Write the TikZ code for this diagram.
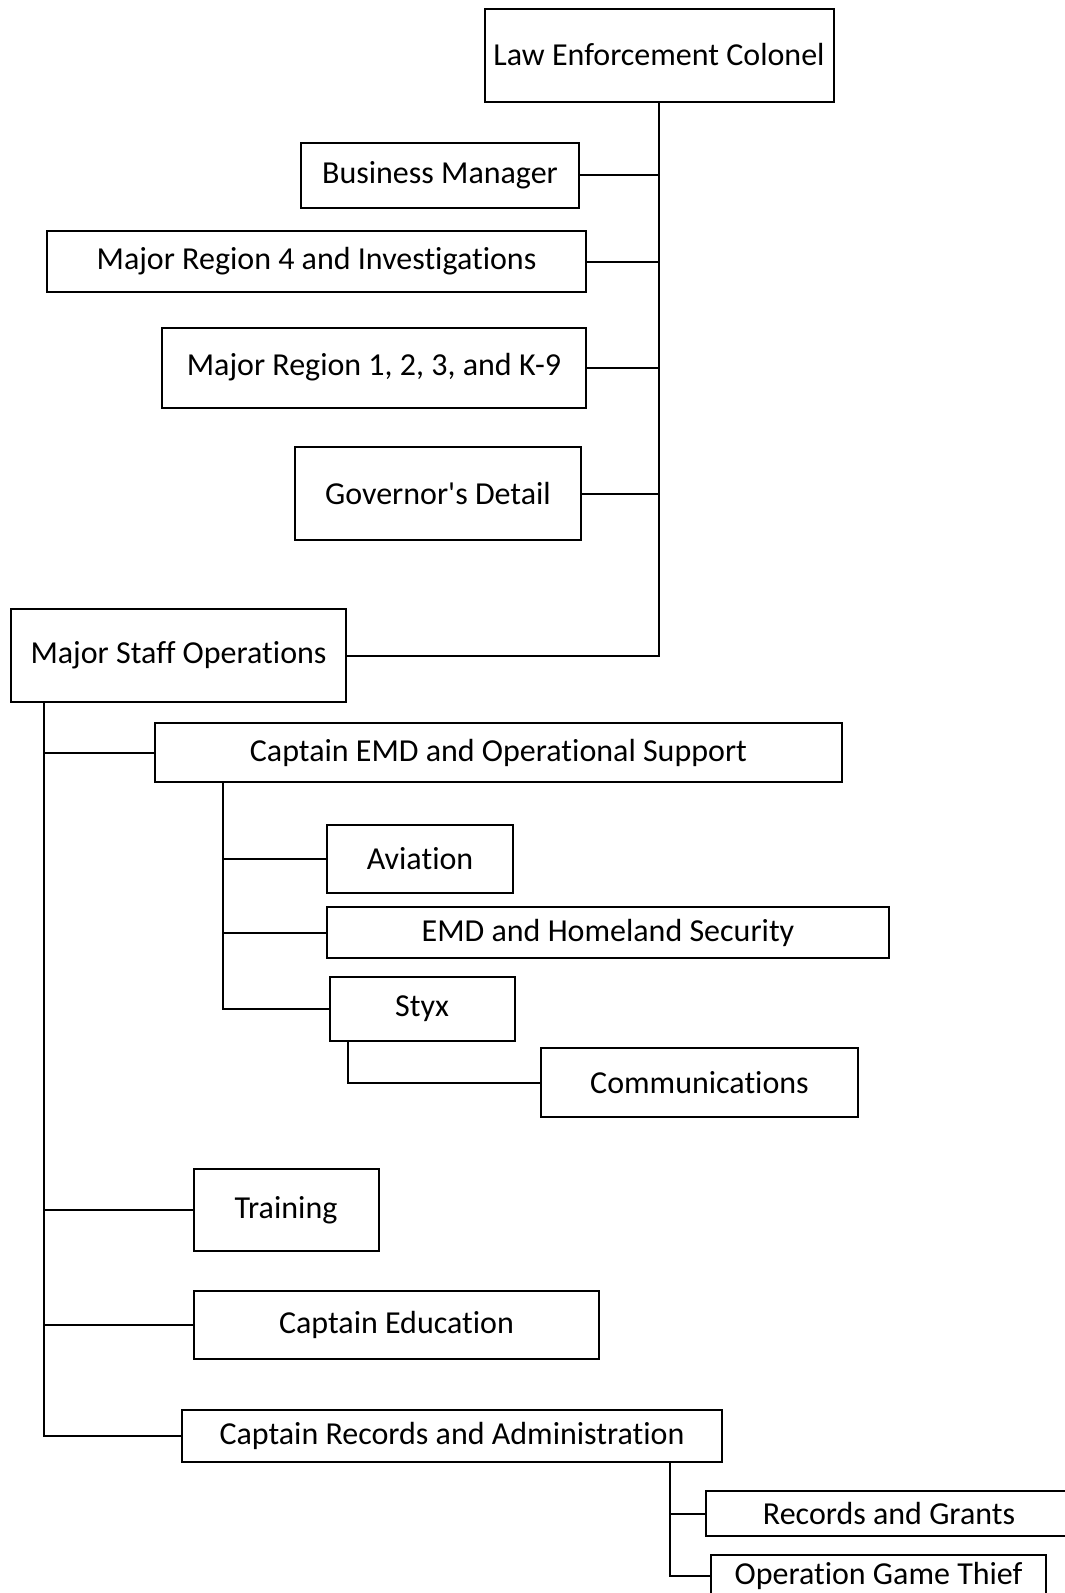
\documentclass[tikz,border=0pt]{standalone}
\usepackage{fontspec}
\setmainfont{Carlito}[Ligatures={TeXOff,CommonOff}]
\begin{document}
\begin{tikzpicture}[
    x=1pt, y=-1pt,
    line width=2pt,
    every node/.style={align=center, font=\fontsize{32}{38}\selectfont},
    unit/.style={draw, inner sep=0pt, line width=2pt},
    link/.style={draw, line width=2pt}]

\useasboundingbox (0,0) rectangle (1065,1593);
\clip (0,0) rectangle (1065,1593);

% top of the chart
\node[unit, minimum width=349, minimum height=93] (colonel) at (659,55) {Law Enforcement Colonel};
% reports of the colonel
\node[unit, minimum width=278, minimum height=65] (bizmgr) at (440,175) {Business Manager};
\node[unit, minimum width=539, minimum height=61] (region4) at (316.5,261.5) {Major Region 4 and Investigations};
\node[unit, minimum width=424, minimum height=80] (region123) at (374,367.5) {Major Region 1, 2, 3, and K-9};
\node[unit, minimum width=286, minimum height=93] (governor) at (438,493.5) {Governor's Detail};
\node[unit, minimum width=335, minimum height=93] (staffops) at (178.5,655.5) {Major Staff Operations};

% reports of staff operations
\node[unit, minimum width=687, minimum height=59] (capemd) at (498.5,752.5) {Captain EMD and Operational Support};
\node[unit, minimum width=186, minimum height=68] (aviation) at (420,858.5) {Aviation};
\node[unit, minimum width=562, minimum height=51] (homeland) at (608,932.5) {EMD and Homeland Security};
\node[unit, minimum width=185, minimum height=64] (styx) at (422,1008.5) {Styx};
\node[unit, minimum width=317, minimum height=69] (comms) at (699.5,1082.5) {Communications};
\node[unit, minimum width=185, minimum height=82] (training) at (286,1210) {Training};
\node[unit, minimum width=405, minimum height=68] (education) at (396.5,1325) {Captain Education};
\node[unit, minimum width=540, minimum height=52] (records) at (452,1436) {Captain Records and Administration};
\node[unit, minimum width=366, minimum height=45] (grants) at (889,1513.5) {Records and Grants};
\node[unit, minimum width=335, minimum height=42] (thief) at (878.5,1576) {Operation Game Thief};

% bus lines
\coordinate (opsbus) at ([xshift=34]staffops.south west);
\coordinate (emdbus) at ([xshift=68.5]capemd.south west);
\coordinate (styxbus) at ([xshift=19]styx.south west);
\coordinate (recbus) at ([xshift=-53.5]records.south east);

% colonel connectors
\draw[link] (colonel.south) -- (colonel.south |- staffops.east) -- (staffops.east);
\foreach \n in {bizmgr, region4, region123, governor}
    \draw[link] (\n.east) -- (\n.east -| colonel.south);

% staff operations connectors
\draw[link] (opsbus) -- (opsbus |- records.west) -- (records.west);
\foreach \n in {capemd, training, education}
    \draw[link] (\n.west) -- (\n.west -| opsbus);

% EMD connectors
\draw[link] (emdbus) -- (emdbus |- styx.west) -- (styx.west);
\foreach \n in {aviation, homeland}
    \draw[link] (\n.west) -- (\n.west -| emdbus);
\draw[link] (styxbus) -- (styxbus |- comms.west) -- (comms.west);

% records connectors
\draw[link] (recbus) -- (recbus |- thief.west) -- (thief.west);
\draw[link] (grants.west) -- (grants.west -| recbus);
\end{tikzpicture}
\end{document}
